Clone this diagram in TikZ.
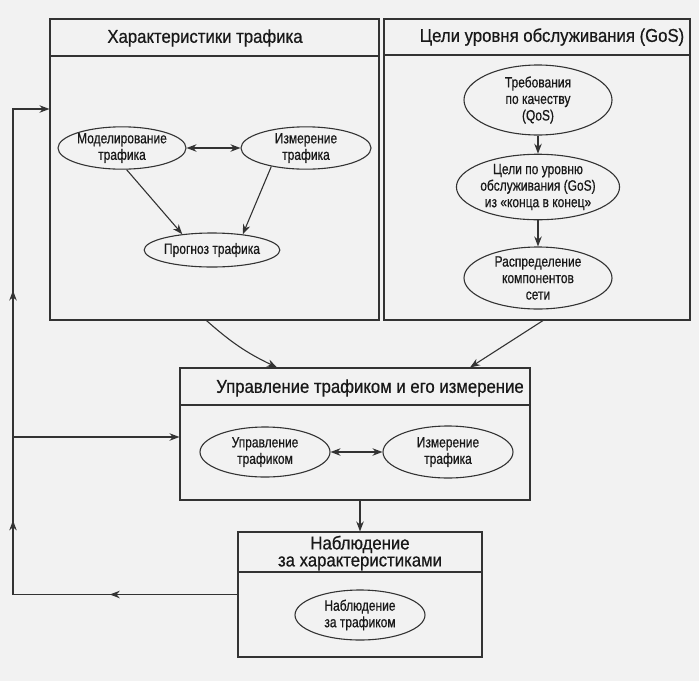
\documentclass[tikz,border=0pt]{standalone}
\usepackage{fontspec}
\setmainfont{Liberation Sans}[FakeStretch=0.9, FakeBold=0.6]
\newfontfamily\ovalfont{Liberation Sans}[FakeStretch=0.8, FakeBold=0.6]
\usetikzlibrary{positioning, shapes.geometric, arrows.meta, decorations.markings}

\begin{document}
\begin{tikzpicture}[x=1pt, y=-1pt, line width=1.1pt, >={Stealth[length=10pt, width=7.5pt]},
  every node/.style={text=black!90},
  box/.style={draw=black!80, rectangle, inner sep=0pt},
  oval/.style={draw=black!80, ellipse, inner sep=0pt, align=center, font=\ovalfont\fontsize{15}{16.5}\selectfont},
  head/.style={align=center, font=\fontsize{18.6}{17}\selectfont}]

\fill[gray!10] (0,0) rectangle (699,681);

  % Boxes
  \node[box, minimum width=329pt, minimum height=301pt] (traffic) at (214.5,169.5) {};
  \node[box, minimum width=306pt, minimum height=301pt] (goals) at (537,169.5) {};
  \node[box, minimum width=350pt, minimum height=132pt] (mgmt) at (355,434) {};
  \node[box, minimum width=244pt, minimum height=125pt] (monitor) at (360,594.5) {};

  % Titles
  \node[head] (trafficT) at (205,38) {Характеристики трафика};
  \node[head] (goalsT) at (552,37) {Цели уровня обслуживания (GoS)};
  \node[head] (mgmtT) at (370,388) {Управление трафиком и его измерение};
  \node[head] (monitorT) at (360,553) {Наблюдение\\за характеристиками};
  \draw[black!80] (traffic.west |- 0,56) -- (traffic.east |- 0,56);
  \draw[black!80] (goals.west |- 0,55) -- (goals.east |- 0,55);
  \draw[black!80] (mgmt.west |- 0,405) -- (mgmt.east |- 0,405);
  \draw[black!80] (monitor.west |- 0,572) -- (monitor.east |- 0,572);

  % Ellipses
  \node[oval, minimum width=128pt, minimum height=40pt] (model) at (122,148) {Моделирование\\трафика};
  \node[oval, minimum width=130pt, minimum height=42pt] (meas) at (306,148) {Измерение\\трафика};
  \node[oval, minimum width=123pt, minimum height=34pt] (forecast) at (212,250) {Прогноз трафика};
  \node[oval, minimum width=148pt, minimum height=70pt] (qos) at (538,100) {Требования\\по качеству\\(QoS)};
  \node[oval, minimum width=150pt, minimum height=62pt] (gos) at (538,187) {Цели по уровню\\обслуживания (GoS)\\из «конца в конец»};
  \node[oval, minimum width=148pt, minimum height=62pt] (comp) at (538,278) {Распределение\\компонентов\\сети};
  \node[oval, minimum width=130pt, minimum height=50pt] (ctrl) at (265,452) {Управление\\трафиком};
  \node[oval, minimum width=130pt, minimum height=52pt] (meas2) at (448,452) {Измерение\\трафика};
  \node[oval, minimum width=130pt, minimum height=50pt] (watch) at (360,615) {Наблюдение\\за трафиком};

  % Arrows
  \draw[<->, black!80] (model) -- (meas);
  \draw[->, black!80] (model.282) -- (forecast.152);
  \draw[->, black!80] (meas.208) -- (forecast.27);
  \draw[->, black!80] (qos) -- (gos);
  \draw[->, black!80] (gos) -- (comp);
  \draw[<->, black!80] (ctrl) -- (meas2);
  \draw[->, black!80] ([xshift=-8pt]traffic.south) to[bend right=8] ([xshift=-78pt]mgmt.north);
  \draw[->, black!80] ([xshift=6pt]goals.south) -- ([xshift=115pt]mgmt.north);
  \draw[->, black!80] (mgmt.south -| monitor.north) -- (monitor.north);

  % Feedback loop
  \coordinate (loopBot) at (13,594.5);
  \coordinate (loopTop) at (13,109);
  \coordinate (loopMid) at (13,437);
  \draw[->, black!80, postaction={decorate, decoration={markings,
      mark=at position 0.171 with {\arrow{>}},
      mark=at position 0.40 with {\arrow{>}},
      mark=at position 0.708 with {\arrow{>}}}}]
    (monitor.west) -- (loopBot) -- (loopTop) -- (loopTop -| traffic.west);
  \draw[->, black!80] (loopMid) -- (loopMid -| mgmt.west);

\end{tikzpicture}
\end{document}
